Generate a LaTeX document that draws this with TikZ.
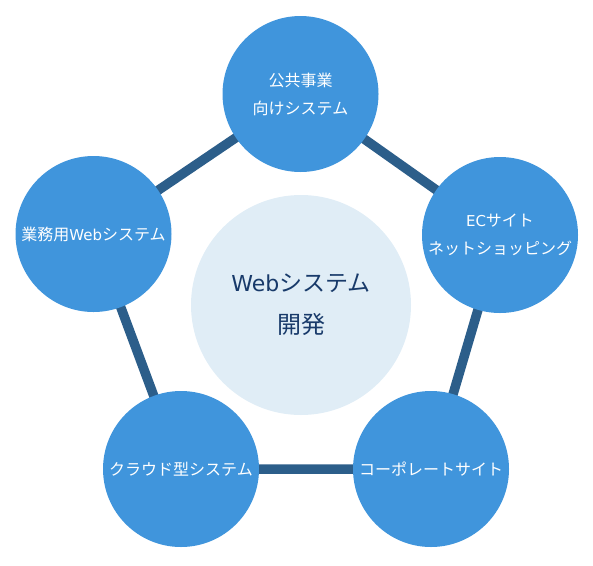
\documentclass[tikz,border=0pt]{standalone}
\usepackage{fontspec}
\newfontfamily\jp{Noto Sans CJK JP}
\newfontfamily\lat{DejaVu Sans}
\usetikzlibrary{backgrounds}
\definecolor{bluefill}{RGB}{64,149,220}
\definecolor{centerfill}{RGB}{224,237,246}
\definecolor{linkcol}{RGB}{44,94,138}
\definecolor{navytext}{RGB}{24,58,106}
\tikzset{
  sat/.style={circle, fill=bluefill, inner sep=0pt, minimum size=156pt, text=white, align=center,
    font=\jp\fontsize{16}{28}\selectfont},
  hub/.style={circle, fill=centerfill, inner sep=0pt, minimum size=220pt, text=navytext, align=center,
    font=\jp\fontsize{23}{42}\selectfont},
  link/.style={draw=linkcol, line width=9.5pt}
}
\begin{document}
\begin{tikzpicture}[x=1pt,y=-1pt]
\useasboundingbox (0,0) rectangle (593,565);
\node[hub] (c) at (301,305) {{\lat\fontsize{22}{42}\selectfont Web}システム\\{\fontsize{24}{42}\selectfont 開発}};
\node[sat] (t) at (300.5,94) {公共事業\\向けシステム};
\node[sat] (l) at (93.5,234) {業務用{\lat\fontsize{15}{28}\selectfont Web}システム};
\node[sat] (r) at (500,235) {{\lat\fontsize{15}{28}\selectfont EC}サイト\\ネットショッピング};
\node[sat] (bl) at (181,469) {クラウド型システム};
\node[sat] (br) at (431,469) {コーポレートサイト};
\begin{scope}[on background layer]
\draw[link] (t.center) -- (r.center) -- (br.center) -- (bl.center) -- (l.center) -- (t.center);
\end{scope}
\end{tikzpicture}
\end{document}
